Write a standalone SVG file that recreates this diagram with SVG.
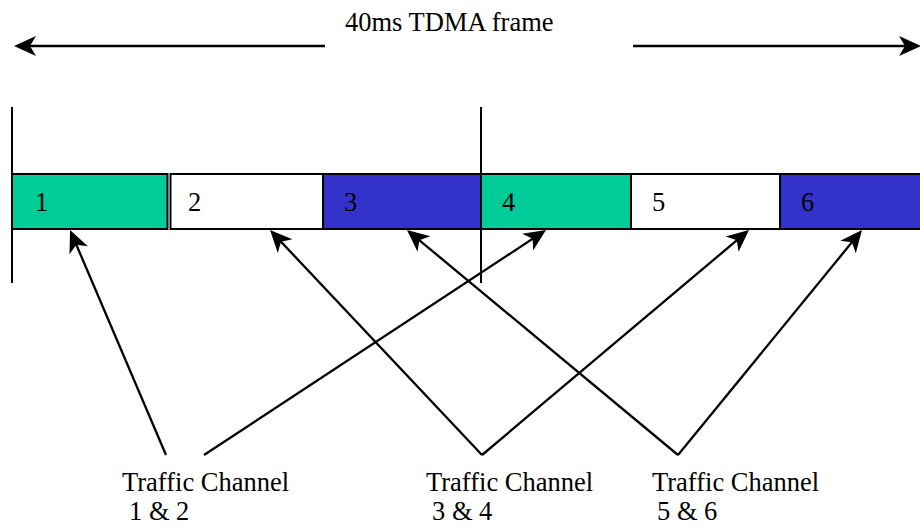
<svg xmlns="http://www.w3.org/2000/svg" width="920" height="527" viewBox="0 0 920 527">
<style>
text{font-family:"Liberation Serif","Times New Roman",serif;font-size:26.5px;fill:#000}
.cell{stroke:#000;stroke-width:2}
.g{fill:#00CC99}.w{fill:#fff}.b{fill:#3333CC}
.conn{stroke:#000;stroke-width:2.3;fill:none}
.top{stroke:#000;stroke-width:2.7;fill:none}
.tick{stroke:#000;stroke-width:2}
</style>
<defs>
<marker id="ah" viewBox="-17 -11 24 22" refX="0" refY="0" markerWidth="24" markerHeight="22" markerUnits="userSpaceOnUse" orient="auto">
<path d="M6,0 L-16,-10 L-10,0 L-16,10 Z" fill="#000"/>
</marker>
</defs>
<rect width="920" height="527" fill="#fff"/>
<g id="frame-label">
<line class="top" x1="325" y1="46" x2="20" y2="46" marker-end="url(#ah)"/>
<line class="top" x1="633" y1="46" x2="915" y2="46" marker-end="url(#ah)"/>
<text x="345" y="31">40ms TDMA frame</text>
</g>
<g id="slot1"><rect class="cell g" x="12" y="174" width="155.5" height="55"/><text x="35" y="211">1</text></g>
<g id="slot2"><rect class="cell w" x="170.5" y="174" width="152.5" height="55"/><text x="188" y="211">2</text></g>
<g id="slot3"><rect class="cell b" x="323" y="174" width="158" height="55"/><text x="344" y="211">3</text></g>
<g id="slot4"><rect class="cell g" x="481" y="174" width="150" height="55"/><text x="502" y="211">4</text></g>
<g id="slot5"><rect class="cell w" x="631" y="174" width="149" height="55"/><text x="652" y="211">5</text></g>
<g id="slot6"><rect class="cell b" x="780" y="174" width="145" height="55"/><text x="801" y="211">6</text></g>
<g id="frame-bounds">
<line class="tick" x1="12" y1="107" x2="12" y2="283"/>
<line class="tick" x1="481" y1="107" x2="481" y2="283"/>
</g>
<g id="tc12"><text x="122" y="491">Traffic Channel</text><text x="129" y="520">1 &amp; 2</text></g>
<g id="tc34"><text x="426" y="491">Traffic Channel</text><text x="432" y="520">3 &amp; 4</text></g>
<g id="tc56"><text x="652" y="491">Traffic Channel</text><text x="657" y="520">5 &amp; 6</text></g>
<g id="connectors">
<line class="conn" x1="166" y1="455" x2="72.4" y2="235.5" marker-end="url(#ah)"/>
<line class="conn" x1="204" y1="455" x2="541" y2="233.3" marker-end="url(#ah)"/>
<line class="conn" x1="482" y1="455" x2="274.1" y2="234.4" marker-end="url(#ah)"/>
<line class="conn" x1="482" y1="455" x2="744.4" y2="233.9" marker-end="url(#ah)"/>
<line class="conn" x1="678" y1="455" x2="411.6" y2="233.8" marker-end="url(#ah)"/>
<line class="conn" x1="678" y1="455" x2="858.2" y2="234.6" marker-end="url(#ah)"/>
</g>
</svg>
